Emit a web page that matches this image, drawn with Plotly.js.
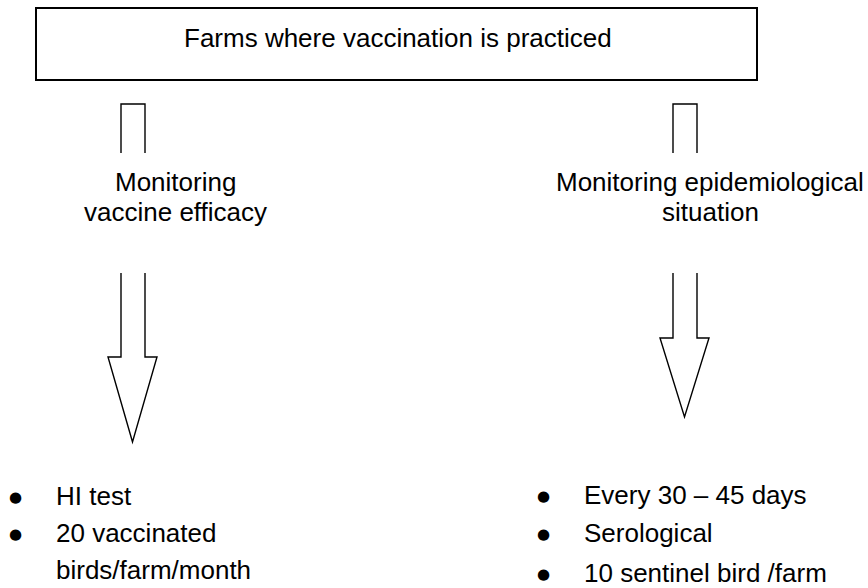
<!DOCTYPE html>
<html><head><meta charset="utf-8">
<script src="https://cdn.plot.ly/plotly-3.0.1.min.js"></script>
<style>html,body{margin:0;padding:0;background:#fff}</style>
</head><body>
<div id="chart" style="width:868px;height:588px"></div>
<script>
// Diagram texts
const topLabel = "Farms where vaccination is practiced";
const leftBranchLines = ["Monitoring", "vaccine efficacy"];
const rightBranchLines = ["Monitoring epidemiological", "situation"];
const leftBullets = ["HI test", "20 vaccinated", "birds/farm/month"];
const leftBulletMarks = [true, true, false];
const rightBullets = ["Every 30 – 45 days", "Serological", "10 sentinel bird /farm"];
const rightBulletMarks = [true, true, true];

const FONT = "'Liberation Sans Narrow', 'Liberation Sans', Arial, sans-serif";
const FS = 26;

// Layout geometry (pixel coordinates on a 868x588 canvas)
const box = {x0: 36, y0: 8, x1: 757, y1: 80};
const stubs = [{xl: 121, xr: 145, y0: 104, y1: 153}, {xl: 673, xr: 697, y0: 104, y1: 153}];
const arrows = [
  {xl: 121, xr: 145, y0: 273, yh: 357, hl: 108, hr: 157, tip: 442},
  {xl: 673, xr: 697, y0: 273, yh: 338, hl: 660, hr: 709, tip: 417}
];
const leftBranch = {x: 175, ys: [182, 212]};
const rightBranch = {x: 710, ys: [182, 212]};
const leftCol = {bx: 15, tx: 54, ys: [496, 533, 570]};
const rightCol = {bx: 543, tx: 582, ys: [495, 533, 573]};

const line = {color: "#000", width: 1.4};
const shapes = [];
shapes.push({type: "rect", xref: "x", yref: "y", x0: box.x0, y0: box.y0, x1: box.x1, y1: box.y1,
  line: {color: "#000", width: 2}, fillcolor: "rgba(0,0,0,0)"});
stubs.forEach(s => {
  shapes.push({type: "path", xref: "x", yref: "y",
    path: `M ${s.xl} ${s.y1} L ${s.xl} ${s.y0} L ${s.xr} ${s.y0} L ${s.xr} ${s.y1}`, line: line});
});
arrows.forEach(a => {
  shapes.push({type: "path", xref: "x", yref: "y",
    path: `M ${a.xl} ${a.y0} L ${a.xl} ${a.yh} L ${a.hl} ${a.yh} L ${(a.hl + a.hr) / 2} ${a.tip} L ${a.hr} ${a.yh} L ${a.xr} ${a.yh} L ${a.xr} ${a.y0}`,
    line: line});
});

const txtFont = {family: FONT, size: FS, color: "#000"};
const ann = [];
ann.push({x: (box.x0 + box.x1) / 2 + 1, y: 38, text: topLabel, showarrow: false,
  xanchor: "center", yanchor: "middle", font: txtFont});
function branch(lines, pos) {
  lines.forEach((t, i) => ann.push({x: pos.x, y: pos.ys[i], text: t, showarrow: false,
    xanchor: "center", yanchor: "middle", font: txtFont}));
}
branch(leftBranchLines, leftBranch);
branch(rightBranchLines, rightBranch);
function bulletCol(items, marks, col) {
  items.forEach((t, i) => {
    if (marks[i]) ann.push({x: col.bx, y: col.ys[i] + 1, text: "●", showarrow: false, xanchor: "center", yanchor: "middle",
      font: {family: "DejaVu Sans", size: 15, color: "#000"}});
    ann.push({x: col.tx, y: col.ys[i], text: t, showarrow: false, xanchor: "left", yanchor: "middle",
      font: txtFont});
  });
}
bulletCol(leftBullets, leftBulletMarks, leftCol);
bulletCol(rightBullets, rightBulletMarks, rightCol);

const layout = {
  width: 868, height: 588,
  margin: {l: 0, r: 0, t: 0, b: 0},
  paper_bgcolor: "#fff", plot_bgcolor: "#fff",
  xaxis: {range: [0, 868], visible: false, fixedrange: true},
  yaxis: {range: [588, 0], visible: false, fixedrange: true},
  shapes: shapes, annotations: ann, showlegend: false
};
Plotly.newPlot("chart", [], layout, {staticPlot: true, displayModeBar: false});
</script>
</body></html>
